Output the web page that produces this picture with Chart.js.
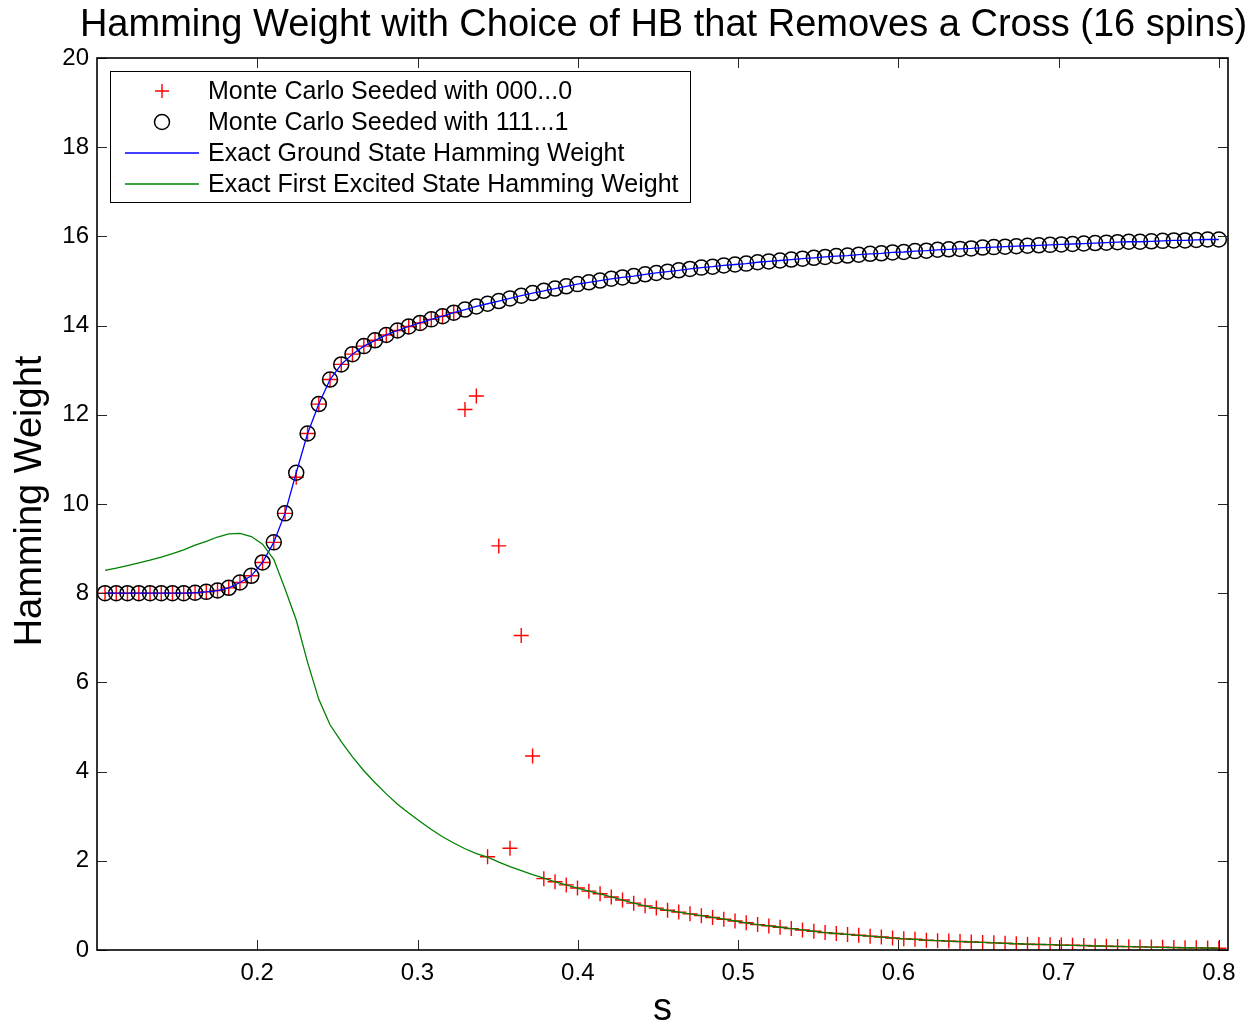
<!DOCTYPE html>
<html><head><meta charset="utf-8">
<script src="https://cdn.jsdelivr.net/npm/chart.js@4"></script>
<style>html,body{margin:0;padding:0;background:#fff}</style>
</head><body>
<canvas id="c" width="1260" height="1028"></canvas>
<script>
const S = [0.1050,0.1120,0.1190,0.1261,0.1331,0.1401,0.1471,0.1541,0.1612,0.1682,
0.1752,0.1822,0.1892,0.1963,0.2033,0.2103,0.2173,0.2243,0.2314,0.2384,
0.2454,0.2524,0.2594,0.2665,0.2735,0.2805,0.2875,0.2945,0.3016,0.3086,
0.3156,0.3226,0.3296,0.3367,0.3437,0.3507,0.3577,0.3647,0.3718,0.3788,
0.3858,0.3928,0.3998,0.4069,0.4139,0.4209,0.4279,0.4349,0.4420,0.4490,
0.4560,0.4630,0.4700,0.4771,0.4841,0.4911,0.4981,0.5051,0.5122,0.5192,
0.5262,0.5332,0.5402,0.5473,0.5543,0.5613,0.5683,0.5753,0.5824,0.5894,
0.5964,0.6034,0.6104,0.6175,0.6245,0.6315,0.6385,0.6455,0.6526,0.6596,
0.6666,0.6736,0.6806,0.6877,0.6947,0.7017,0.7087,0.7157,0.7228,0.7298,
0.7368,0.7438,0.7508,0.7579,0.7649,0.7719,0.7789,0.7859,0.7930,0.8000];

const GROUND = [8.00,8.00,8.00,8.00,8.00,8.00,8.00,8.00,8.01,8.03,
8.06,8.12,8.24,8.39,8.69,9.14,9.79,10.70,11.58,12.24,
12.79,13.13,13.36,13.54,13.67,13.79,13.89,13.98,14.06,14.14,
14.21,14.29,14.36,14.43,14.49,14.55,14.61,14.67,14.73,14.78,
14.83,14.88,14.93,14.97,15.01,15.05,15.08,15.11,15.15,15.18,
15.21,15.24,15.27,15.30,15.32,15.35,15.37,15.39,15.42,15.44,
15.46,15.48,15.50,15.52,15.54,15.56,15.57,15.59,15.61,15.62,
15.64,15.65,15.67,15.68,15.70,15.71,15.72,15.73,15.75,15.76,
15.77,15.78,15.79,15.80,15.81,15.82,15.83,15.84,15.85,15.86,
15.87,15.88,15.88,15.89,15.90,15.91,15.91,15.92,15.93,15.93];

const EXCITED = [8.51,8.56,8.62,8.68,8.74,8.81,8.89,8.97,9.08,9.16,
9.26,9.33,9.34,9.27,9.10,8.76,8.10,7.40,6.45,5.62,
5.05,4.67,4.33,4.02,3.75,3.50,3.27,3.07,2.88,2.70,
2.54,2.40,2.27,2.16,2.08,1.97,1.87,1.78,1.69,1.61,
1.53,1.46,1.39,1.32,1.26,1.19,1.12,1.05,0.99,0.94,
0.89,0.85,0.81,0.77,0.73,0.69,0.65,0.61,0.57,0.54,
0.51,0.48,0.45,0.42,0.39,0.37,0.35,0.33,0.31,0.29,
0.27,0.25,0.24,0.22,0.21,0.20,0.19,0.18,0.17,0.16,
0.15,0.14,0.13,0.125,0.12,0.11,0.105,0.10,0.09,0.085,
0.08,0.075,0.07,0.065,0.06,0.055,0.05,0.048,0.045,0.04];

const MC_SEED0 = [8.00,8.00,8.00,8.00,8.00,8.00,8.00,8.00,8.01,8.03,
8.06,8.12,8.24,8.39,8.69,9.14,9.79,10.60,11.58,12.24,
12.79,13.13,13.36,13.54,13.67,13.79,13.89,13.98,14.06,14.14,
14.21,14.29,12.12,12.42,2.09,9.06,2.28,7.05,4.35,1.60,
1.53,1.46,1.39,1.32,1.26,1.19,1.12,1.05,0.99,0.94,
0.89,0.85,0.81,0.77,0.73,0.69,0.65,0.61,0.57,0.54,
0.51,0.48,0.45,0.42,0.39,0.37,0.35,0.33,0.31,0.29,
0.27,0.25,0.24,0.22,0.21,0.20,0.19,0.18,0.17,0.16,
0.15,0.14,0.13,0.125,0.12,0.11,0.105,0.10,0.09,0.085,
0.08,0.075,0.07,0.065,0.06,0.055,0.05,0.048,0.045,0.04];

const MC_SEED1 = [8.00,8.00,8.00,8.00,8.00,8.00,8.00,8.00,8.01,8.03,
8.06,8.12,8.24,8.39,8.69,9.14,9.79,10.70,11.58,12.24,
12.79,13.13,13.36,13.54,13.67,13.79,13.89,13.98,14.06,14.14,
14.21,14.29,14.36,14.43,14.49,14.55,14.61,14.67,14.73,14.78,
14.83,14.88,14.93,14.97,15.01,15.05,15.08,15.11,15.15,15.18,
15.21,15.24,15.27,15.30,15.32,15.35,15.37,15.39,15.42,15.44,
15.46,15.48,15.50,15.52,15.54,15.56,15.57,15.59,15.61,15.62,
15.64,15.65,15.67,15.68,15.70,15.71,15.72,15.73,15.75,15.76,
15.77,15.78,15.79,15.80,15.81,15.82,15.83,15.84,15.85,15.86,
15.87,15.88,15.88,15.89,15.90,15.91,15.91,15.92,15.93,15.93];

const X_TICKS = [0.2,0.3,0.4,0.5,0.6,0.7,0.8];
const Y_TICKS = [0,2,4,6,8,10,12,14,16,18,20];
const X_LABELS = ['0.2','0.3','0.4','0.5','0.6','0.7','0.8'];
const TITLE = 'Hamming Weight with Choice of HB that Removes a Cross (16 spins)';
const X_TITLE = 's';
const Y_TITLE = 'Hamming Weight';
const SERIES_NAMES = ['Monte Carlo Seeded with 000...0','Monte Carlo Seeded with 111...1',
  'Exact Ground State Hamming Weight','Exact First Excited State Hamming Weight'];

const FONT = "'Liberation Sans', Arial, Helvetica, sans-serif";
const pts = (ys) => S.map((x, i) => ({x: x, y: ys[i]}));

const decor = {
  id: 'decor',
  afterDraw(chart) {
    const ctx = chart.ctx, a = chart.chartArea;
    const xs = chart.scales.x, ys = chart.scales.y;
    ctx.save();
    ctx.strokeStyle = '#262626'; ctx.lineWidth = 1;
    const TL = 10;
    X_TICKS.forEach(v => {
      const px = Math.round(xs.getPixelForValue(v)) + 0.5;
      ctx.beginPath();
      ctx.moveTo(px, a.bottom); ctx.lineTo(px, a.bottom - TL);
      ctx.moveTo(px, a.top); ctx.lineTo(px, a.top + TL);
      ctx.stroke();
    });
    Y_TICKS.forEach(v => {
      const py = Math.round(ys.getPixelForValue(v)) + 0.5;
      ctx.beginPath();
      ctx.moveTo(a.left, py); ctx.lineTo(a.left + TL, py);
      ctx.moveTo(a.right, py); ctx.lineTo(a.right - TL, py);
      ctx.stroke();
    });
    ctx.strokeStyle = '#000'; ctx.lineWidth = 1.6;
    ctx.strokeRect(a.left, a.top, a.right - a.left, a.bottom - a.top);
    ctx.fillStyle = '#000';
    ctx.textAlign = 'center'; ctx.textBaseline = 'alphabetic';
    ctx.font = '38px ' + FONT;
    ctx.fillText(TITLE, (a.left + a.right) / 2 + 1, 36);
    ctx.fillText(X_TITLE, (a.left + a.right) / 2, 1020);
    ctx.save();
    ctx.translate(41, (a.top + a.bottom) / 2 - 3);
    ctx.rotate(-Math.PI / 2);
    ctx.fillText(Y_TITLE, 0, 0);
    ctx.restore();
    const L = 110.5, T = 71.5, R = 690.5, B = 202.5;
    ctx.fillStyle = '#fff';
    ctx.fillRect(L, T, R - L, B - T);
    ctx.strokeStyle = '#000'; ctx.lineWidth = 1;
    ctx.strokeRect(L, T, R - L, B - T);
    const rows = [91, 122, 153, 184];
    const mx = 162;
    ctx.strokeStyle = '#ff0000'; ctx.lineWidth = 1.4;
    ctx.beginPath();
    ctx.moveTo(mx - 7, rows[0]); ctx.lineTo(mx + 7, rows[0]);
    ctx.moveTo(mx, rows[0] - 7); ctx.lineTo(mx, rows[0] + 7);
    ctx.stroke();
    ctx.strokeStyle = '#000'; ctx.lineWidth = 1.5;
    ctx.beginPath(); ctx.arc(mx, rows[1], 7.5, 0, Math.PI * 2); ctx.stroke();
    ctx.lineWidth = 1.3;
    ctx.strokeStyle = '#0000ff';
    ctx.beginPath(); ctx.moveTo(125, rows[2]); ctx.lineTo(199, rows[2]); ctx.stroke();
    ctx.strokeStyle = '#008000';
    ctx.beginPath(); ctx.moveTo(125, rows[3]); ctx.lineTo(199, rows[3]); ctx.stroke();
    ctx.fillStyle = '#000';
    ctx.font = '25px ' + FONT;
    ctx.textAlign = 'left'; ctx.textBaseline = 'middle';
    SERIES_NAMES.forEach((t, i) => ctx.fillText(t, 208, rows[i] + 1));
    ctx.restore();
  }
};

new Chart(document.getElementById('c'), {
  type: 'scatter',
  data: {
    datasets: [
      { label: SERIES_NAMES[3], data: pts(EXCITED), showLine: true, borderColor: '#008000',
        borderWidth: 1.3, pointRadius: 0, fill: false, tension: 0, order: 1 },
      { label: SERIES_NAMES[2], data: pts(GROUND), showLine: true, borderColor: '#0000ff',
        borderWidth: 1.3, pointRadius: 0, fill: false, tension: 0, order: 2 },
      { label: SERIES_NAMES[1], data: pts(MC_SEED1), showLine: false, pointStyle: 'circle',
        pointRadius: 7.5, pointBorderColor: '#000', pointBackgroundColor: 'rgba(0,0,0,0)',
        pointBorderWidth: 1.5, order: 3 },
      { label: SERIES_NAMES[0], data: pts(MC_SEED0), showLine: false, pointStyle: 'cross',
        pointRadius: 7.5, pointBorderColor: '#ff0000', pointBackgroundColor: '#ff0000',
        pointBorderWidth: 1.4, order: 4 }
    ]
  },
  options: {
    responsive: false,
    animation: false,
    devicePixelRatio: 1,
    layout: { padding: { left: 0, right: 32, top: 58, bottom: 0 } },
    plugins: { legend: { display: false }, tooltip: { enabled: false }, title: { display: false } },
    scales: {
      x: {
        type: 'linear', min: 0.1, max: 0.8057,
        grid: { display: false, drawTicks: false },
        border: { display: false },
        afterBuildTicks: (s) => { s.ticks = X_TICKS.map(v => ({ value: v })); },
        afterFit: (s) => { s.height = 78; },
        ticks: { color: '#000', padding: 9, maxRotation: 0, autoSkip: false,
          font: { family: FONT, size: 24 },
          callback: (v) => { const k = X_TICKS.findIndex(t => Math.abs(t - v) < 1e-9); return k >= 0 ? X_LABELS[k] : ''; } }
      },
      y: {
        type: 'linear', min: 0, max: 20,
        grid: { display: false, drawTicks: false },
        border: { display: false },
        afterBuildTicks: (s) => { s.ticks = Y_TICKS.map(v => ({ value: v })); },
        afterFit: (s) => { s.width = 97; },
        ticks: { color: '#000', padding: 8, autoSkip: false,
          font: { family: FONT, size: 24 },
          callback: (v) => String(v) }
      }
    }
  },
  plugins: [decor]
});
</script>
</body></html>
